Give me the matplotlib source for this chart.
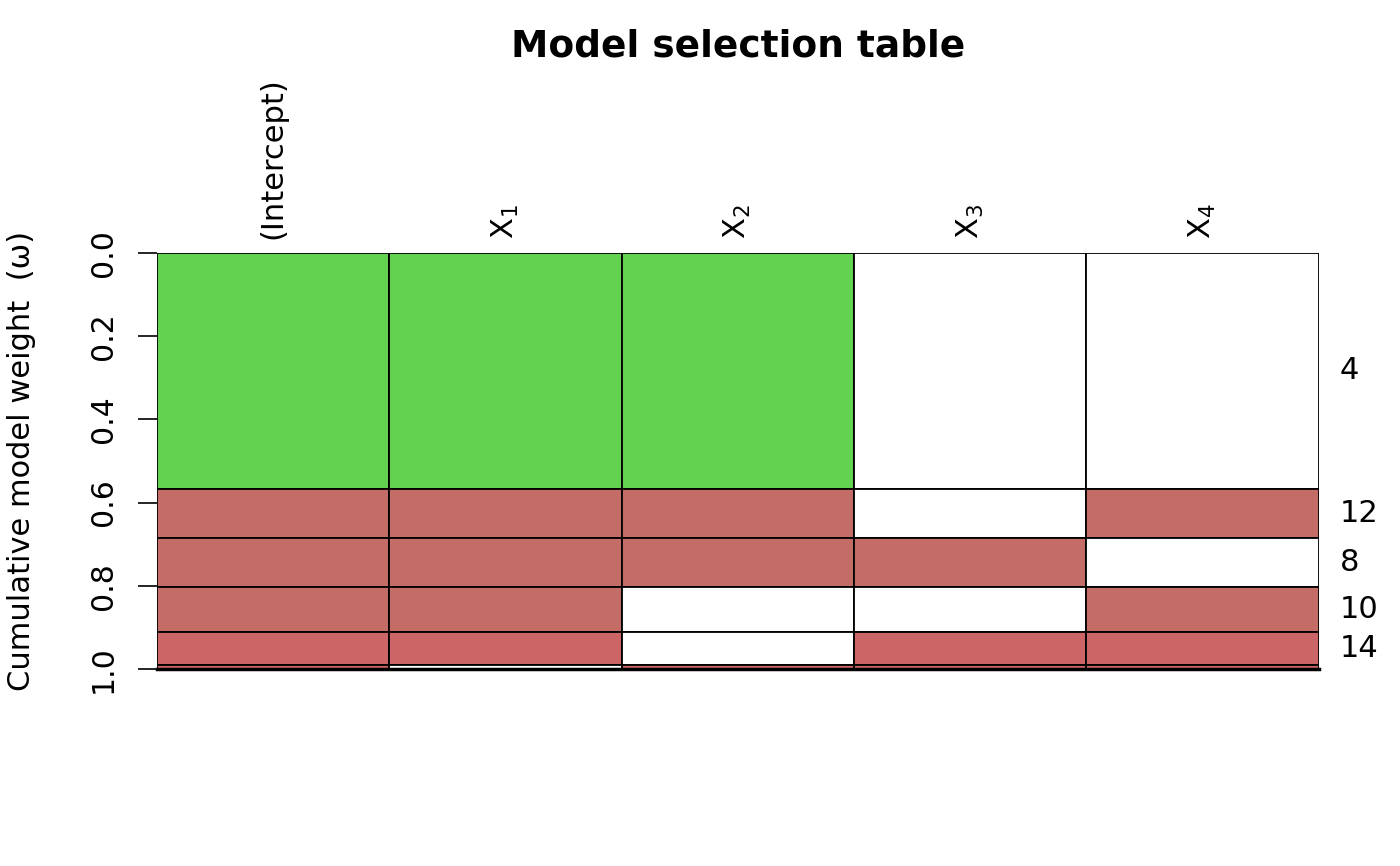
import matplotlib
matplotlib.use('Agg')
import matplotlib.pyplot as plt

# Data
terms = ['(Intercept)', r'$\mathregular{X_{1}}$', r'$\mathregular{X_{2}}$',
         r'$\mathregular{X_{3}}$', r'$\mathregular{X_{4}}$']
models = ['4', '12', '8', '10', '14', '13']
weights = [0.567, 0.118, 0.118, 0.108, 0.079, 0.010]
included = [
    [1, 1, 1, 0, 0],
    [1, 1, 1, 0, 1],
    [1, 1, 1, 1, 0],
    [1, 1, 0, 0, 1],
    [1, 1, 0, 1, 1],
    [1, 0, 1, 1, 1],
]
row_colors = ['#62d250', '#c46c66', '#c46c66', '#c46c66', '#cc6566', '#cc6566']

fig = plt.figure(figsize=(14, 8.66), dpi=100)
ax = fig.add_axes([0.112, 0.2275, 0.830, 0.4805])

cum = 0.0
for i, w in enumerate(weights):
    for j in range(len(terms)):
        col = row_colors[i] if included[i][j] else 'white'
        ax.bar(j, w, bottom=cum, width=1, align='edge', color=col,
               edgecolor='black', linewidth=1.3)
    if w > 0.05:
        ax.text(len(terms) + 0.09, cum + w / 2, models[i], fontsize=22,
                ha='left', va='center')
    cum += w

ax.set_xlim(0, len(terms))
ax.set_ylim(1, 0)
for s in ax.spines.values():
    s.set_visible(False)
ax.plot([0, len(terms)], [1, 1], color='black', linewidth=2.5, clip_on=False)

ax.set_yticks([0, 0.2, 0.4, 0.6, 0.8, 1.0])
ax.set_yticklabels(['0.0', '0.2', '0.4', '0.6', '0.8', '1.0'], rotation=90,
                   va='center', fontsize=21.5)
ax.tick_params(axis='y', length=14, width=1.2, pad=14)

ax.set_xticks([j + 0.5 for j in range(len(terms))])
ax.set_xticklabels(terms, rotation=90, fontsize=22)
ax.xaxis.tick_top()
ax.tick_params(axis='x', length=0, pad=10)

ax.set_ylabel('Cumulative model weight  (\u03c9)', fontsize=22, labelpad=38)
fig.suptitle('Model selection table', fontsize=27, fontweight='bold', x=0.527, y=0.967)

fig.savefig('out.png', dpi=100)
